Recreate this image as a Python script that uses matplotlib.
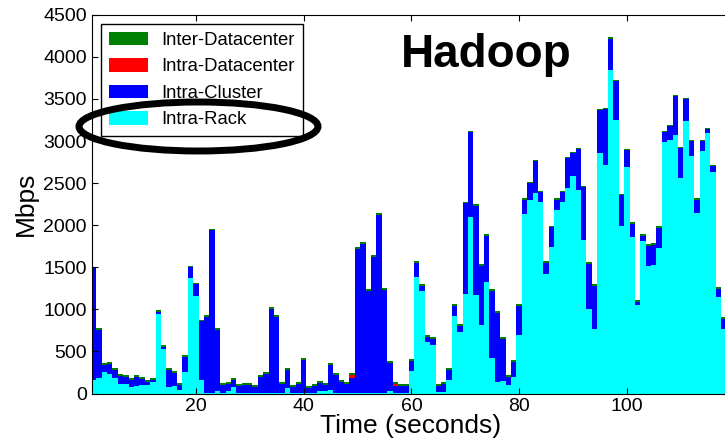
import numpy as np
import matplotlib
matplotlib.use("Agg")
import matplotlib.pyplot as plt
from matplotlib.patches import Ellipse

plt.rcParams['font.family'] = ['Liberation Sans', 'DejaVu Sans']

# seconds 1..118, traffic in Mbps per locality class
seconds = np.arange(1, 119)

intra_rack = [
    160, 184, 255, 231, 184, 113, 113, 77, 89, 101,
    101, 136, 942, 527, 77, 89, 41, 255, 1369, 1159,
    160, 10, 10, 30, 10, 30, 77, 10, 10, 10,
    10, 10, 10, 10, 10, 10, 65, 10, 10, 10,
    10, 10, 35, 35, 41, 10, 10, 10, 10, 10,
    10, 10, 10, 10, 10, 35, 10, 10, 10, 267,
    1381, 1215, 610, 574, 18, 20, 160, 918, 729, 1179,
    2092, 1167, 812, 1321, 421, 136, 148, 101, 196, 693,
    2127, 2305, 2388, 2281, 1416, 1736, 2175, 2281, 2447, 2589,
    2423, 1819, 1001, 764, 2862, 2720, 3845, 3253, 1996, 2696,
    1855, 1049, 1807, 1511, 1523, 1724, 2992, 3016, 3075, 2565,
    3241, 2826, 2139, 2886, 3099, 2637, 1143, 764,
]

intra_cluster = [
    1327, 569, 86, 122, 98, 98, 86, 87, 110, 75,
    39, 28, 27, 28, 205, 158, 63, 181, 130, 139,
    699, 900, 1927, 726, 94, 86, 87, 83, 94, 94,
    71, 189, 225, 995, 900, 106, 217, 71, 106, 391,
    59, 83, 93, 69, 300, 213, 130, 106, 173, 1706,
    1765, 1208, 1611, 2109, 1220, 330, 76, 83, 83, 122,
    169, 63, 63, 75, 75, 96, 122, 122, 74, 1082,
    1011, 1059, 703, 549, 797, 822, 501, 98, 181, 347,
    170, 193, 371, 110, 134, 240, 122, 110, 347, 265,
    478, 632, 537, 514, 501, 655, 372, 454, 360, 193,
    157, 39, 63, 240, 240, 241, 111, 158, 454, 348,
    253, 170, 158, 110, 39, 63, 99, 122,
]

intra_dc = [0] * 118
intra_dc[48] = 40
intra_dc[56] = 30

inter_dc = [20] * 118

labels = ["Inter-Datacenter", "Intra-Datacenter", "Intra-Cluster", "Intra-Rack"]
colors = ["#008000", "#ff0000", "#0000ff", "#00ffff"]

fig = plt.figure(figsize=(7.25, 4.43), dpi=100)
ax = fig.add_axes([0.1265, 0.1117, 0.88, 0.855])

rack = np.array(intra_rack)
cluster = np.array(intra_cluster)
dc = np.array(intra_dc)
inter = np.array(inter_dc)

b_rack = ax.bar(seconds, rack, width=1.0, color=colors[3], linewidth=0)
b_cl = ax.bar(seconds, cluster, width=1.0, bottom=rack, color=colors[2], linewidth=0)
b_dc = ax.bar(seconds, dc, width=1.0, bottom=rack + cluster, color=colors[1], linewidth=0)
b_in = ax.bar(seconds, inter, width=1.0, bottom=rack + cluster + dc, color=colors[0], linewidth=0)

ax.set_xlim(0.65, 119.1)
ax.set_ylim(0, 4500)
ax.set_xticks([20, 40, 60, 80, 100])
ax.set_yticks(np.arange(0, 4501, 500))
ax.tick_params(direction='in', top=True, right=False, labelsize=14, length=4)
ax.set_xlabel("Time (seconds)", fontsize=19, labelpad=-1)
ax.set_ylabel("Mbps", fontsize=19, labelpad=4)

leg = ax.legend([b_in, b_dc, b_cl, b_rack], labels, loc='upper left',
                bbox_to_anchor=(101 / 725, 1 - 24 / 443), bbox_transform=fig.transFigure,
                borderaxespad=0, fancybox=False, framealpha=1, fontsize=13.3,
                handlelength=2.1, handleheight=0.75, handletextpad=0.75,
                labelspacing=0.5, borderpad=0.42)
leg.get_frame().set_edgecolor('black')
leg.get_frame().set_linewidth(1.0)

fig.text(486 / 725, 1 - 55 / 443, "Hadoop", fontsize=33, fontweight='bold',
         ha='center', va='center')

ring = Ellipse((198.5 / 725, 1 - 126.5 / 443), 239 / 725, 49 / 443,
               transform=fig.transFigure, fill=False, edgecolor='black',
               linewidth=5, zorder=10)
fig.patches.append(ring)

fig.savefig("out.png", dpi=100)
